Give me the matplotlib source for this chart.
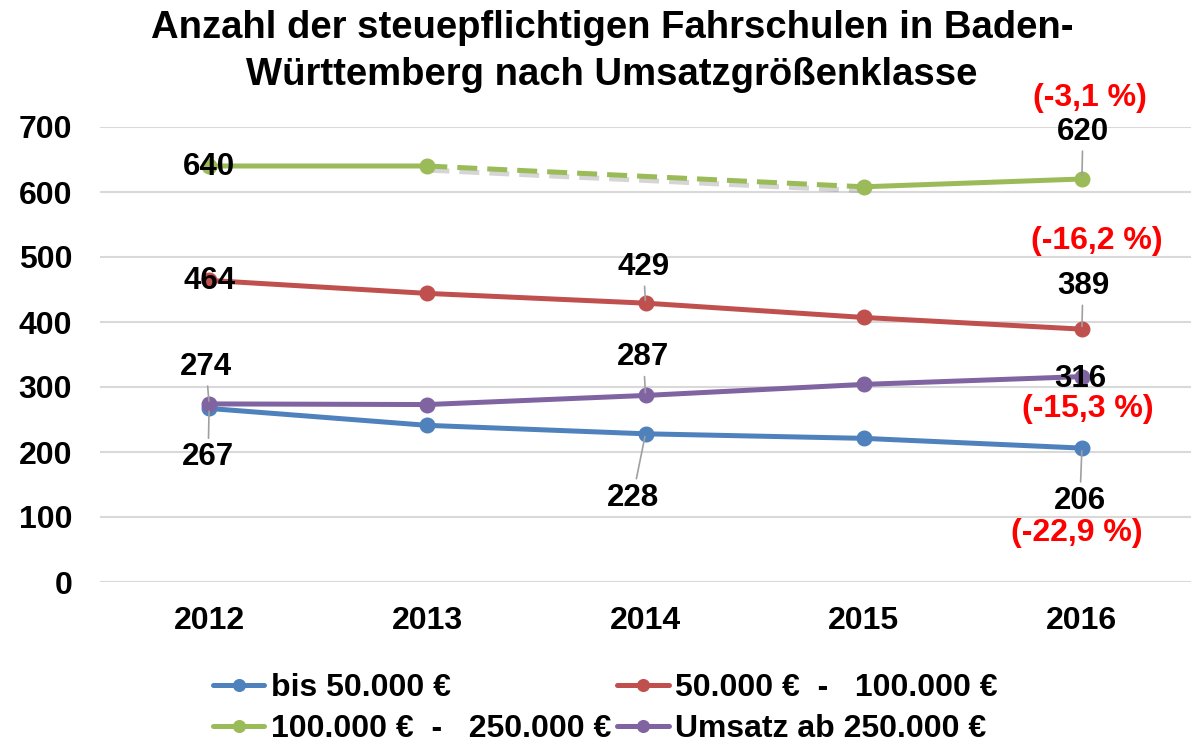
import numpy as np
import matplotlib.pyplot as plt
import matplotlib.patheffects as pe

plt.rcParams['font.family'] = ['Liberation Sans', 'DejaVu Sans']
plt.rcParams['font.weight'] = 'bold'

years = ['2012', '2013', '2014', '2015', '2016']
bis_50 = [267, 241, 228, 221, 206]
von_50_100 = [464, 444, 429, 407, 389]
von_100_250 = [640, 640, np.nan, 608, 620]
ab_250 = [274, 273, 287, 304, 316]

names = ['bis 50.000 €', '50.000 €  -   100.000 €',
         '100.000 €  -   250.000 €', 'Umsatz ab 250.000 €']
colors = ['#4F81BD', '#C0504D', '#9BBB59', '#8064A2']
changes = ['(-22,9 %)', '(-16,2 %)', '(-3,1 %)', '(-15,3 %)']

fig = plt.figure(figsize=(11.91, 7.45), dpi=100)
ax = fig.add_axes([100 / 1191, 1 - 582 / 745, 1091 / 1191, 455 / 745])
x = np.arange(len(years))

series = [bis_50, von_50_100, von_100_250, ab_250]
handles = []
for vals, name, c in zip(series, names, colors):
    h, = ax.plot(x, vals, color=c, lw=3.6, marker='o', ms=10.5,
                 solid_capstyle='round', label=name, zorder=3)
    handles.append(h)

# gap in the 100.000-250.000 series is bridged with a dashed line
ax.plot([x[1], x[3]], [von_100_250[1], von_100_250[3]], color=colors[2],
        lw=3.6, ls=(0, (4, 2)), zorder=2,
        path_effects=[pe.SimpleLineShadow(offset=(1.5, -3), shadow_color='#888888', alpha=0.35),
                      pe.Normal()])

ax.set_xlim(-0.5, 4.5)
ax.set_ylim(0, 700)
ax.set_yticks(range(0, 701, 100))
ax.set_xticks(x)
ax.set_xticklabels(years)
ax.tick_params(length=0, labelsize=23)
ax.tick_params(axis='y', pad=20)
ax.tick_params(axis='x', pad=17)
ax.grid(axis='y', color='#D9D9D9', lw=1.5, zorder=0)
for s in ax.spines.values():
    s.set_visible(False)

lead = dict(arrowstyle='-', color='#A0A0A0', lw=1.2, shrinkA=1, shrinkB=2)


def label(i, vals, dx, dy, leader=True):
    ax.annotate(f'{vals[i]:.0f}', (x[i], vals[i]), xytext=(dx, dy),
                textcoords='offset pixels', ha='center', va='center',
                fontsize=22.5, zorder=5,
                arrowprops=lead if leader else None)


label(0, von_100_250, 0, -1, False)
label(0, von_50_100, 0, -1, False)
label(0, ab_250, -3, 37)
label(0, bis_50, -1, -49)
label(2, von_50_100, -2, 36)
label(2, ab_250, -2, 38)
label(2, bis_50, -13, -64)
label(4, von_100_250, 1, 47)
label(4, von_50_100, 1, 43)
label(4, ab_250, -2, -2, False)
label(4, bis_50, -2, -53)

pct_offsets = [(-5, -85), (15, 88), (8, 81), (6, -32)]
for vals, txt, (dx, dy) in zip(series, changes, pct_offsets):
    ax.annotate(txt, (x[4], vals[4]), xytext=(dx, dy),
                textcoords='offset pixels', ha='center', va='center',
                fontsize=23, color='#FF0000', zorder=5)

fig.suptitle('Anzahl der steuepflichtigen Fahrschulen in Baden-\n'
             'Württemberg nach Umsatzgrößenklasse',
             x=0.514, y=0.986, fontsize=27.5, fontweight='bold', linespacing=1.38)

# legend fills column-wise, so order handles to read row-wise
order = [0, 2, 1, 3]
fig.legend(handles=[handles[i] for i in order], loc='upper left',
           bbox_to_anchor=(0.179, 0.096), ncol=2, frameon=False, fontsize=23,
           borderpad=0, borderaxespad=0, handlelength=1.6, handletextpad=0.2,
           columnspacing=0.2, labelspacing=0.33, markerscale=0.8)

fig.savefig('out.png', dpi=100)
